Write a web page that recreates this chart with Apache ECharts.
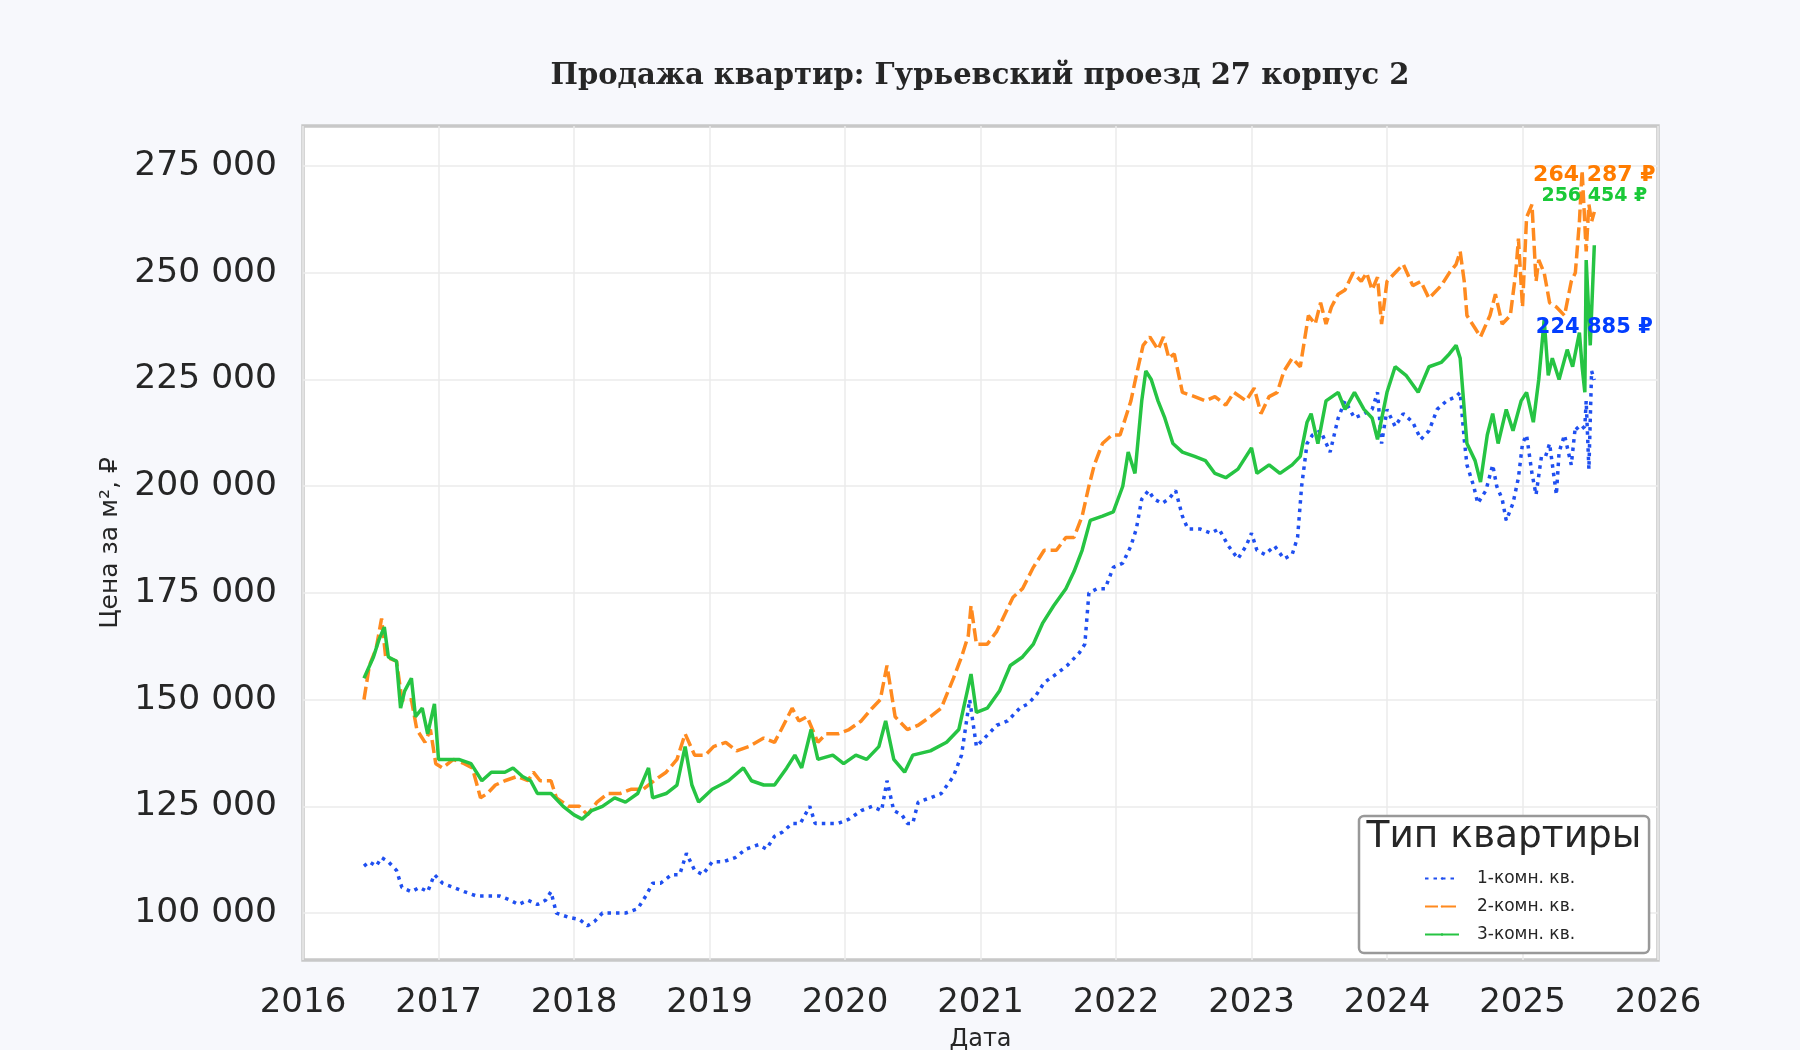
<!DOCTYPE html>
<html>
<head>
<meta charset="utf-8">
<title>Продажа квартир</title>
<script src="https://cdn.jsdelivr.net/npm/echarts@6/dist/echarts.min.js"></script>
<style>
  html, body { margin: 0; padding: 0; background: #f7f8fc; }
  #chart { width: 1800px; height: 1050px; }
</style>
</head>
<body>
<div id="chart"></div>
<script>
// данные (годы в виде десятичной дроби, цены в тыс. ₽ за м²)
var seriesNames = ['1-комн. кв.', '2-комн. кв.', '3-комн. кв.'];
var yearTicks = [2016, 2017, 2018, 2019, 2020, 2021, 2022, 2023, 2024, 2025, 2026];
var priceTicks = [100000, 125000, 150000, 175000, 200000, 225000, 250000, 275000];

// 1-комн.
var years1 = [2016.45,2016.49,2016.54,2016.58,2016.63,2016.69,2016.73,2016.80,2016.86,2016.92,2016.97,
  2017.03,2017.11,2017.19,2017.28,2017.36,2017.45,2017.53,2017.59,2017.66,2017.73,2017.79,2017.83,2017.87,2017.96,
  2018.04,2018.10,2018.15,2018.21,2018.30,2018.38,2018.47,2018.53,2018.58,2018.64,2018.72,2018.78,2018.83,2018.89,2018.95,
  2019.02,2019.10,2019.19,2019.27,2019.36,2019.42,2019.48,2019.54,2019.61,2019.67,2019.74,2019.78,2019.86,2019.95,
  2020.03,2020.12,2020.20,2020.27,2020.31,2020.36,2020.42,2020.46,2020.50,2020.54,2020.63,2020.71,2020.80,2020.86,2020.92,2020.97,
  2021.03,2021.12,2021.20,2021.29,2021.35,2021.41,2021.47,2021.56,2021.64,2021.73,2021.77,2021.80,2021.86,2021.92,2021.98,
  2022.05,2022.11,2022.15,2022.19,2022.24,2022.28,2022.34,2022.39,2022.44,2022.49,2022.53,2022.62,2022.70,2022.76,2022.83,2022.90,2022.96,
  2023.00,2023.04,2023.10,2023.17,2023.24,2023.30,2023.34,2023.37,2023.41,2023.45,2023.51,2023.58,2023.64,2023.69,2023.76,2023.83,2023.89,2023.93,2023.96,
  2024.00,2024.06,2024.12,2024.19,2024.25,2024.31,2024.37,2024.44,2024.51,2024.54,2024.57,2024.59,2024.64,2024.67,2024.73,2024.78,2024.81,2024.85,2024.88,2024.93,2024.97,
  2025.00,2025.03,2025.07,2025.10,2025.14,2025.17,2025.20,2025.25,2025.27,2025.31,2025.36,2025.39,2025.42,2025.46,2025.47,2025.49,2025.51,2025.53];
var price1 = [111,112,111,113,112,110,106,105,106,105,109,
  107,106,105,104,104,104,103,102,103,102,103,105,100,99,
  98.5,97,98,100,100,100,101,104,107,107,109,109,114,110,109,
  112,112,113,115,116,115,118,119,121,121,125,121,121,121,
  122,124,125,124,131,124,123,121,121,126,127,128,132,137,150,139,
  141,144,145,148,149,151,154,156,158,161,163,175,176,176,181,
  182,186,190,197,199,197,196,197,199,193,190,190,189,190,186,183,186,
  189,185,184,186,183,184,188,200,210,212,213,208,216,220,216,217,218,222,210,
  218,214,217,215,211,213,218,220,221,222,211,205,200,196,199,205,200,197,192,196,202,
  210,212,203,198,207,207,210,198,208,212,205,214,213,214,220,204,227,224.885];

// 2-комн.
var years2 = [2016.45,2016.49,2016.54,2016.58,2016.61,2016.69,2016.73,2016.80,2016.84,2016.90,2016.94,2016.98,
  2017.03,2017.11,2017.19,2017.25,2017.31,2017.36,2017.42,2017.49,2017.58,2017.66,2017.70,2017.75,2017.83,2017.87,2017.96,
  2018.04,2018.10,2018.17,2018.25,2018.34,2018.42,2018.51,2018.59,2018.68,2018.76,2018.82,2018.89,2018.97,
  2019.03,2019.12,2019.20,2019.29,2019.40,2019.48,2019.53,2019.61,2019.66,2019.72,2019.80,2019.86,2019.95,
  2020.03,2020.12,2020.20,2020.26,2020.31,2020.37,2020.46,2020.54,2020.63,2020.71,2020.80,2020.86,2020.91,2020.93,2020.97,
  2021.05,2021.12,2021.18,2021.24,2021.31,2021.39,2021.47,2021.56,2021.63,2021.69,2021.75,2021.80,2021.84,2021.90,2021.97,
  2022.03,2022.11,2022.15,2022.20,2022.25,2022.31,2022.35,2022.39,2022.43,2022.49,2022.58,2022.66,2022.73,2022.81,2022.87,2022.96,
  2023.02,2023.07,2023.13,2023.19,2023.24,2023.30,2023.36,2023.39,2023.42,2023.47,2023.51,2023.55,2023.59,2023.64,2023.69,2023.75,2023.81,2023.85,2023.89,2023.93,2023.96,
  2024.00,2024.06,2024.12,2024.19,2024.25,2024.31,2024.40,2024.46,2024.51,2024.54,2024.57,2024.59,2024.65,2024.69,2024.76,2024.80,2024.85,2024.91,2024.95,2024.97,
  2025.00,2025.03,2025.07,2025.10,2025.12,2025.16,2025.20,2025.25,2025.31,2025.36,2025.39,2025.42,2025.44,2025.47,2025.49,2025.51,2025.53];
var price2 = [150,158,162,169,160,159,150,150,143,140,143,135,
  134,136,135,134,127,128,130,131,132,131,133,131,131,127,125,
  125,123,126,128,128,129,129,131,133,136,142,137,137,
  139,140,138,139,141,140,143,148,145,146,140,142,142,
  143,145,148,150,158,146,143,144,146,148,155,160,165,172,163,
  163,166,170,174,176,181,185,185,188,188,193,200,205,210,212,
  212,220,226,233,235,232,235,230,231,222,221,220,221,219,222,220,
  223,217,221,222,227,230,228,234,240,238,243,238,242,245,246,250,248,250,246,249,238,
  248,250,252,247,248,244,247,250,252,255,248,240,237,235,240,245,238,240,250,258,
  242,263,266,248,253,250,243,242,240,248,250,262,274,255,266,262,264.287];

// 3-комн.
var years3 = [2016.45,2016.52,2016.56,2016.60,2016.63,2016.69,2016.72,2016.75,2016.80,2016.83,2016.88,2016.92,2016.97,
  2017.00,2017.07,2017.15,2017.24,2017.32,2017.39,2017.49,2017.55,2017.62,2017.68,2017.73,2017.83,2017.92,
  2018.00,2018.06,2018.13,2018.21,2018.30,2018.38,2018.47,2018.55,2018.58,2018.68,2018.76,2018.82,2018.87,2018.92,
  2019.02,2019.14,2019.25,2019.31,2019.40,2019.48,2019.57,2019.63,2019.68,2019.75,2019.80,2019.91,2019.99,
  2020.08,2020.16,2020.25,2020.30,2020.36,2020.44,2020.50,2020.63,2020.75,2020.84,2020.93,2020.97,
  2021.05,2021.14,2021.22,2021.31,2021.39,2021.46,2021.54,2021.63,2021.69,2021.75,2021.81,2021.90,2021.98,
  2022.05,2022.09,2022.14,2022.19,2022.22,2022.26,2022.31,2022.36,2022.42,2022.49,2022.58,2022.66,2022.73,2022.81,2022.90,
  2023.00,2023.04,2023.13,2023.21,2023.30,2023.36,2023.41,2023.44,2023.49,2023.55,2023.64,2023.69,2023.76,2023.83,2023.89,2023.93,
  2024.00,2024.06,2024.14,2024.23,2024.31,2024.40,2024.46,2024.51,2024.54,2024.59,2024.65,2024.69,2024.74,2024.78,2024.82,2024.88,2024.93,2024.99,
  2025.03,2025.08,2025.12,2025.16,2025.19,2025.22,2025.27,2025.33,2025.37,2025.42,2025.44,2025.46,2025.47,2025.50,2025.53];
var price3 = [155,160,164,167,160,159,148,152,155,146,148,142,149,
  136,136,136,135,131,133,133,134,132,131,128,128,125,
  123,122,124,125,127,126,128,134,127,128,130,139,130,126,
  129,131,134,131,130,130,134,137,134,143,136,137,135,
  137,136,139,145,136,133,137,138,140,143,156,147,
  148,152,158,160,163,168,172,176,180,185,192,193,194,
  200,208,203,220,227,225,220,216,210,208,207,206,203,202,204,
  209,203,205,203,205,207,215,217,210,220,222,218,222,218,216,211,
  222,228,226,222,228,229,231,233,230,210,206,201,212,217,210,218,213,220,
  222,215,225,239,226,230,225,232,228,236,228,222,253,233,256.454];

function thousands(v) {
  return String(Math.round(v)).replace(/\B(?=(\d{3})+(?!\d))/g, ' ');
}

function toPoints(xs, ys) {
  return xs.map(function (x, i) { return [x, Math.round(ys[i] * 1000)]; });
}

// подпись последнего значения над концом линии
function lastLabel(xs, ys, color, size, dy) {
  var i = xs.length - 1;
  var v = Math.round(ys[i] * 1000);
  return {
    symbol: 'circle',
    symbolSize: 1,
    silent: true,
    itemStyle: { color: 'rgba(0,0,0,0)' },
    label: {
      show: true,
      position: 'inside',
      offset: [0, dy],
      formatter: thousands(v) + ' ₽',
      color: color,
      fontSize: size,
      fontWeight: 'bold',
      fontFamily: 'DejaVu Sans'
    },
    data: [{ coord: [xs[i], v] }]
  };
}

var myChart = echarts.init(document.getElementById('chart'));

var textColor = '#262626';
var gridLine = { lineStyle: { color: '#ebebeb', width: 1.5 } };

var option = {
  backgroundColor: '#f7f8fc',
  animation: false,
  title: [{
    text: 'Продажа квартир: Гурьевский проезд 27 корпус 2',
    left: 980,
    top: 62,
    padding: 0,
    textAlign: 'center',
    textStyle: { fontFamily: 'DejaVu Serif', fontWeight: 'bold', fontSize: 29, color: textColor }
  }, {
    // заголовок легенды
    text: 'Тип квартиры',
    left: 1504,
    top: 818,
    padding: 0,
    textAlign: 'center',
    textStyle: { fontFamily: 'DejaVu Sans', fontWeight: 'normal', fontSize: 37.5, color: textColor }
  }],
  legend: {
    orient: 'vertical',
    left: 1359,
    top: 816,
    padding: [54, 74, 10, 65],
    itemWidth: 34,
    itemHeight: 3,
    itemGap: 11,
    backgroundColor: '#ffffff',
    borderColor: '#999999',
    borderWidth: 2.5,
    borderRadius: 5,
    z: 1,
    textStyle: { fontFamily: 'DejaVu Sans', fontSize: 17, color: textColor, padding: [0, 0, 0, 13] },
    data: seriesNames
  },
  grid: {
    left: 303,
    right: 142,
    top: 126,
    bottom: 90,
    outerBoundsMode: 'none',
    show: true,
    backgroundColor: '#ffffff',
    borderColor: '#c8c8c8',
    borderWidth: 3.5
  },
  xAxis: {
    type: 'value',
    min: yearTicks[0],
    max: yearTicks[yearTicks.length - 1],
    interval: 1,
    name: 'Дата',
    nameLocation: 'middle',
    nameGap: 68,
    nameTextStyle: { fontFamily: 'DejaVu Sans', fontSize: 24, color: textColor },
    axisLine: { show: false },
    axisTick: { show: false },
    axisLabel: {
      fontFamily: 'DejaVu Sans', fontSize: 34, color: textColor, margin: 26,
      formatter: function (v) { return String(v); }
    },
    splitLine: gridLine
  },
  yAxis: {
    type: 'value',
    min: 89000,
    max: 284400,
    name: 'Цена за м², ₽',
    nameLocation: 'middle',
    nameGap: 170,
    nameTextStyle: { fontFamily: 'DejaVu Sans', fontSize: 25, color: textColor },
    axisLine: { show: false },
    axisTick: { show: false, customValues: priceTicks },
    axisLabel: {
      customValues: priceTicks,
      fontFamily: 'DejaVu Sans', fontSize: 34.5, color: textColor, margin: 26,
      formatter: function (v) { return thousands(v); }
    },
    splitLine: gridLine
  },
  series: [{
    name: seriesNames[0],
    type: 'line',
    data: toPoints(years1, price1),
    symbol: 'none',
    itemStyle: { color: '#1f4ff0' },
    lineStyle: { color: '#1f4ff0', width: 3.5, type: [3.5, 5] },
    markPoint: lastLabel(years1, price1, '#023eff', 21, -52)
  }, {
    name: seriesNames[1],
    type: 'line',
    data: toPoints(years2, price2),
    symbol: 'none',
    itemStyle: { color: '#ff8a1f' },
    lineStyle: { color: '#ff8a1f', width: 3.5, type: [13, 5] },
    markPoint: lastLabel(years2, price2, '#ff7c00', 22, -37)
  }, {
    name: seriesNames[2],
    type: 'line',
    data: toPoints(years3, price3),
    symbol: 'none',
    itemStyle: { color: '#26c443' },
    lineStyle: { color: '#26c443', width: 3.5, type: 'solid' },
    markPoint: lastLabel(years3, price3, '#1ac938', 19, -49)
  }]
};

myChart.setOption(option);
</script>
</body>
</html>
